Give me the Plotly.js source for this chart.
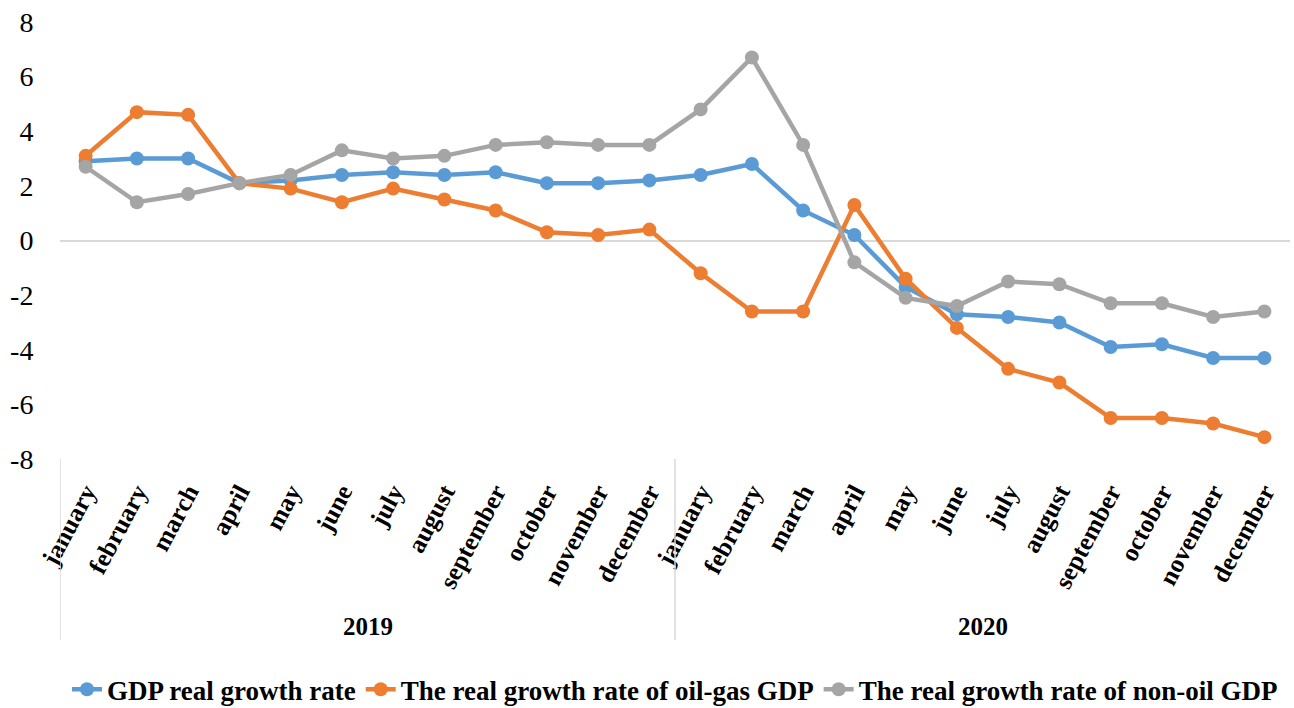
<!DOCTYPE html>
<html>
<head>
<meta charset="utf-8">
<script src="https://cdn.plot.ly/plotly-3.0.1.min.js"></script>
<style>html,body{margin:0;padding:0;background:#fff;}#chart{width:1294px;height:708px;}</style>
</head>
<body>
<div id="chart"></div>
<script>
const years = ["2019", "2020"];
const months = ["january","february","march","april","may","june","july","august","september","october","november","december"];
const gdpGrowth = [2.9, 3.0, 3.0, 2.1, 2.2, 2.4, 2.5, 2.4, 2.5, 2.1, 2.1, 2.2,
                   2.4, 2.8, 1.1, 0.2, -1.7, -2.7, -2.8, -3.0, -3.9, -3.8, -4.3, -4.3];
const oilGasGrowth = [3.1, 4.7, 4.6, 2.1, 1.9, 1.4, 1.9, 1.5, 1.1, 0.3, 0.2, 0.4,
                      -1.2, -2.6, -2.6, 1.3, -1.4, -3.2, -4.7, -5.2, -6.5, -6.5, -6.7, -7.2];
const nonOilGrowth = [2.7, 1.4, 1.7, 2.1, 2.4, 3.3, 3.0, 3.1, 3.5, 3.6, 3.5, 3.5,
                      4.8, 6.7, 3.5, -0.8, -2.1, -2.4, -1.5, -1.6, -2.3, -2.3, -2.8, -2.6];
const seriesNames = ["GDP real growth rate", "The real growth rate of oil-gas GDP", "The real growth rate of non-oil GDP"];
const yTicks = [-8, -6, -4, -2, 0, 2, 4, 6, 8];

const labels = [];
years.forEach(() => months.forEach(m => labels.push(m)));
const xIdx = labels.map((_, i) => i);

const FONT = 'Liberation Serif, Times New Roman, serif';
const colors = ["#5b9bd5", "#ed7d31", "#a5a5a5"];
const data = [gdpGrowth, oilGasGrowth, nonOilGrowth].map((vals, k) => ({
  x: xIdx, y: vals, type: 'scatter', mode: 'lines+markers', name: seriesNames[k],
  line: {color: colors[k], width: 4.5},
  marker: {color: colors[k], size: 14}
}));

const annotations = years.map((yr, i) => ({
  x: i * months.length + (months.length - 1) / 2, xref: 'x',
  y: -0.384, yref: 'paper', yanchor: 'middle', xanchor: 'center',
  text: yr, showarrow: false,
  font: {family: FONT, size: 25, color: '#000', weight: 'bold'}
}));
const shapes = years.map((yr, i) => ({
  type: 'line', xref: 'x', yref: 'paper',
  x0: i * months.length - 0.5, x1: i * months.length - 0.5, y0: 0, y1: -0.414,
  line: {color: '#d9d9d9', width: 1.5}
}));

const layout = {
  width: 1294, height: 708,
  margin: {l: 60, r: 4, t: 22, b: 249, autoexpand: false},
  paper_bgcolor: '#fff', plot_bgcolor: '#fff',
  font: {family: FONT, color: '#000'},
  showlegend: true,
  legend: {orientation: 'h', x: 0.5, xanchor: 'center', y: -0.528, yanchor: 'middle',
           font: {family: FONT, size: 27, color: '#000', weight: 'bold'}, tracegroupgap: 0},
  xaxis: {
    range: [-0.5, labels.length - 0.5], tickvals: xIdx, ticktext: labels,
    tickangle: -62, showgrid: false, zeroline: false, showline: false,
    ticks: 'outside', ticklen: 7, tickcolor: 'rgba(0,0,0,0)',
    automargin: false,
    tickfont: {family: FONT, size: 25.5, color: '#000', weight: 'bold'}
  },
  yaxis: {
    range: [-8, 8], tickvals: yTicks, ticktext: yTicks.map(String),
    showgrid: false, zeroline: true, zerolinecolor: '#d9d9d9', zerolinewidth: 2,
    showline: false, ticks: 'outside', ticklen: 20, tickcolor: 'rgba(0,0,0,0)',
    automargin: false,
    tickfont: {family: FONT, size: 28, color: '#000'}
  },
  annotations: annotations,
  shapes: shapes
};
Plotly.newPlot('chart', data, layout, {displayModeBar: false, staticPlot: true});
</script>
</body>
</html>
